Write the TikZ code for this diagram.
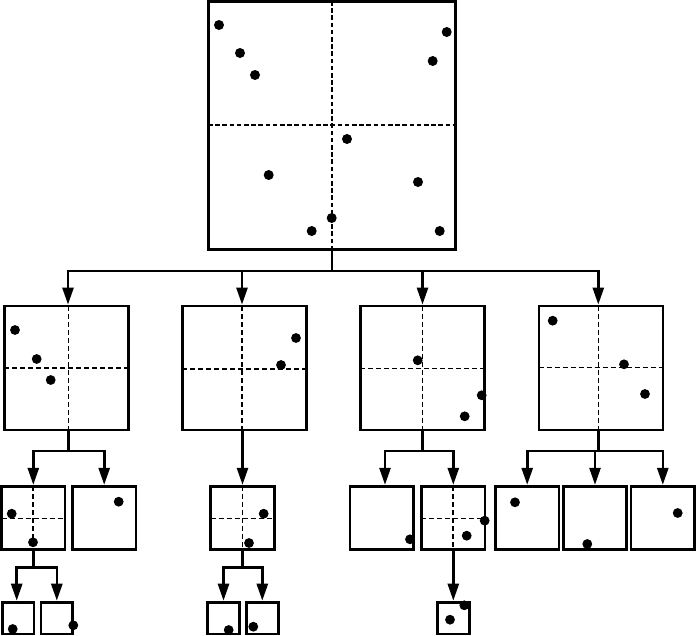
\documentclass[tikz,border=0pt]{standalone}
\usetikzlibrary{arrows.meta}
\begin{document}
\begin{tikzpicture}[x=1pt,y=-1pt,
  cell/.style={draw,line width=2.8pt,inner sep=0pt,minimum size=#1},
  link/.style={line width=2.6pt},
  arrow/.style={line width=2.6pt,-{Triangle[length=17pt,width=11pt]}},
  splitbig/.style={line width=2.2pt,dash pattern=on 4.5pt off 2.7pt},
  split/.style={line width=1.3pt,dash pattern=on 5pt off 3pt},
  pt/.style={fill=black}
]
\useasboundingbox (0,0) rectangle (696,635);

% root cell
\node[cell=247.5] (top) at (332,125.5) {};
\draw[splitbig] (331.7,1) -- (331.7,250);
\draw[splitbig] (208,125) -- (456,125);

% second level
\node[cell=124] (b1) at (66.5,368) {};
\node[cell=124] (b2) at (244.5,368) {};
\node[cell=124] (b3) at (422.5,368) {};
\node[cell=124] (b4) at (601,368) {};
\draw[split] (68.5,306) -- (68.5,430);  \draw[split] (4,368) -- (129,368);
\draw[split] (242,306) -- (242,430);    \draw[split] (182,369) -- (307,369);
\draw[split] (422.3,306) -- (422.3,430);\draw[split] (360,368.7) -- (485,368.7);
\draw[split] (598.3,306) -- (598.3,430);\draw[split] (538.5,367.7) -- (663.5,367.7);

% third level
\node[cell=63.5] (c1) at (33.3,518) {};
\node[cell=63.5] (c2) at (104.2,518) {};
\node[cell=63.5] (c3) at (242.5,518) {};
\node[cell=63.5] (c4) at (381.7,518) {};
\node[cell=63.5] (c5) at (453.3,518) {};
\node[cell=63.5] (c6) at (527.2,518) {};
\node[cell=63.5] (c7) at (595,518) {};
\node[cell=63.5] (c8) at (662.8,518) {};
\draw[split] (33,486) -- (33,550);   \draw[split] (1.5,518.3) -- (65,518.3);
\draw[split] (242.3,486) -- (242.3,550); \draw[split] (210.5,518.7) -- (275,518.7);
\draw[split] (453,486) -- (453,550); \draw[split] (421,518.3) -- (485.5,518.3);

% fourth level
\node[cell=31.8] (d1) at (18,618) {};
\node[cell=31.8] (d2) at (56.8,618) {};
\node[cell=31.8] (d3) at (223.5,618) {};
\node[cell=31.8] (d4) at (262.3,618) {};
\node[cell=31.8] (d5) at (453.3,618) {};

% junction points
\coordinate (j0) at (332,271);
\coordinate (j1) at (68.5,451);
\coordinate (j3) at (422.5,451);
\coordinate (j4) at (598.3,451);
\coordinate (k1) at (33.3,567.5);
\coordinate (k3) at (242.5,567.7);

% connectors
\draw[link] (top.south) -- (j0);
\draw[arrow] (j0) -| ([xshift=1.5pt]b1.north);
\draw[arrow] (j0) -| ([xshift=-2.5pt]b2.north);
\draw[arrow] (j0) -| (b3.north);
\draw[arrow] (j0) -| ([xshift=-2.7pt]b4.north);

\draw[link] ([xshift=2pt]b1.south) -- (j1);
\draw[arrow] (j1) -| (c1.north);
\draw[arrow] (j1) -| (c2.north);
\draw[arrow] (c3.south |- b2.south) -- (c3.north);
\draw[link] (b3.south) -- (j3);
\draw[arrow] (j3) -| ([xshift=3.3pt]c4.north);
\draw[arrow] (j3) -| (c5.north);
\draw[link] ([xshift=-2.7pt]b4.south) -- (j4);
\draw[arrow] (j4) -| (c6.north);
\draw[arrow] (j4) -| (c7.north);
\draw[arrow] (j4) -| (c8.north);

\draw[link] (c1.south) -- (k1);
\draw[arrow] (k1) -| ([xshift=-1.3pt]d1.north);
\draw[arrow] (k1) -| (d2.north);
\draw[link] (c3.south) -- (k3);
\draw[arrow] (k3) -| (d3.north);
\draw[arrow] (k3) -| (d4.north);
\draw[arrow] (c5.south) -- (d5.north);

% points in the root cell
\foreach \x/\y in {219/25, 240/53, 255/75, 446.7/32, 432.7/61, 347/139,
                   268.7/175, 418/182, 331.7/218, 311.7/231, 439.7/231}
  \fill[pt] (\x,\y) circle (5pt);

% points in the second level
\foreach \x/\y in {15/330, 36.7/359, 50.7/380, 296/338, 281/365,
                   417.7/360.3, 481.7/395.3, 464.7/416.3,
                   552.7/320.7, 624/364.3, 645/394}
  \fill[pt] (\x,\y) circle (4.9pt);

% points in the third level
\foreach \x/\y in {11.7/513.7, 33/542.3, 118.7/501.7, 263.7/513.7, 249/543,
                   410/539.3, 484.7/520.7, 466.7/535.7,
                   515/502.3, 587.3/544, 677.7/513}
  \fill[pt] (\x,\y) circle (4.9pt);

% points in the fourth level
\foreach \x/\y in {12.7/629, 73.3/625.3, 228.7/630, 253.3/626.7,
                   464.3/605.3, 450/619.7}
  \fill[pt] (\x,\y) circle (4.9pt);
\end{tikzpicture}
\end{document}
